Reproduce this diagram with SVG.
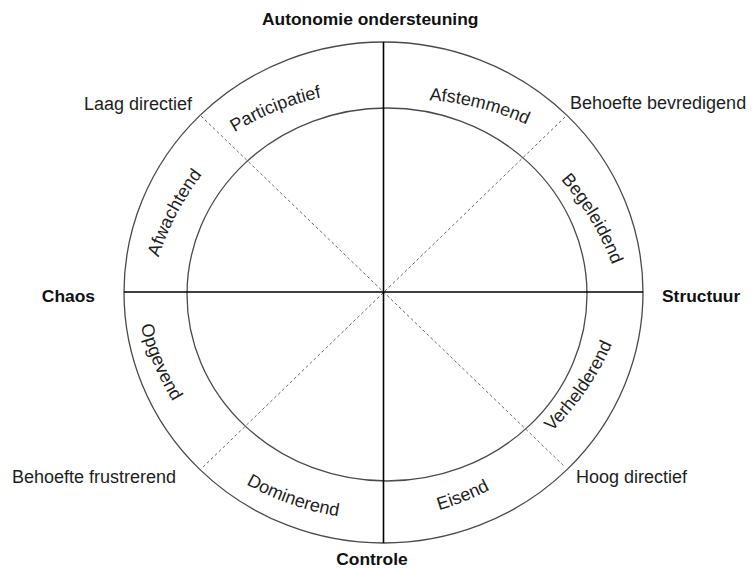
<svg xmlns="http://www.w3.org/2000/svg" width="752" height="570" viewBox="0 0 752 570">
<style>
.ring{fill:none;stroke:#4a4a4a;stroke-width:1.3}
.axis{stroke:#000;stroke-width:1.6}
.dash{stroke:#6a6a6a;stroke-width:1;stroke-dasharray:3 2.5}
.lbl{font-family:"Liberation Sans",Arial,sans-serif;font-size:18px;fill:#1e1e1e}
.axl{font-family:"Liberation Sans",Arial,sans-serif;font-size:17.4px;font-weight:bold;fill:#111}
</style>
<defs>
<path id="pParticipatief" d="M207.5,151 A280,280 0 0 1 353.9,92.4"/>
<path id="pAfstemmend" d="M399.8,99.9 A280,280 0 0 1 552.8,138.1"/>
<path id="pBegeleidend" d="M539.8,158.1 A280,280 0 0 1 621.4,293.3"/>
<path id="pAfwachtend" d="M150.1,289.2 A280,280 0 0 1 223.7,149.6"/>
<path id="pOpgevend" d="M133.4,287.7 A280,280 0 0 0 195.2,432.9"/>
<path id="pDominerend" d="M219.9,467.5 A280,280 0 0 0 368.9,519.5"/>
<path id="pEisend" d="M387.6,519.9 A280,280 0 0 0 534,461.3"/>
<path id="pVerhelderend" d="M532.1,449.2 A280,280 0 0 0 621.5,319.2"/>
</defs>
<g id="rings">
<ellipse class="ring" cx="383.5" cy="292.5" rx="259.5" ry="250.5"/>
<ellipse class="ring" cx="387" cy="294.5" rx="200" ry="186.5"/>
</g>
<g id="connectors">
<line class="dash" x1="201" y1="116" x2="565" y2="467"/>
<line class="dash" x1="565" y1="117" x2="201" y2="469"/>
<line class="axis" x1="383.5" y1="42" x2="383.5" y2="543"/>
<line class="axis" x1="124" y1="292" x2="643" y2="292"/>
</g>
<g id="axis-labels">
<text id="autonomie" class="axl" x="262" y="25">Autonomie ondersteuning</text>
<text id="controle" class="axl" x="372" y="565" text-anchor="middle">Controle</text>
<text id="chaos" class="axl" x="95" y="302" text-anchor="end">Chaos</text>
<text id="structuur" class="axl" x="662" y="302">Structuur</text>
</g>
<g id="corner-labels">
<text id="laag" class="lbl" x="192" y="110" text-anchor="end">Laag directief</text>
<text id="bevredigend" class="lbl" x="570" y="109">Behoefte bevredigend</text>
<text id="frustrerend" class="lbl" x="12" y="483">Behoefte frustrerend</text>
<text id="hoog" class="lbl" x="576" y="483">Hoog directief</text>
</g>
<g id="sector-labels">
<g id="participatief"><text class="lbl"><textPath href="#pParticipatief" startOffset="50%" text-anchor="middle">Participatief</textPath></text></g>
<g id="afstemmend"><text class="lbl"><textPath href="#pAfstemmend" startOffset="50%" text-anchor="middle">Afstemmend</textPath></text></g>
<g id="begeleidend"><text class="lbl"><textPath href="#pBegeleidend" startOffset="50%" text-anchor="middle">Begeleidend</textPath></text></g>
<g id="afwachtend"><text class="lbl"><textPath href="#pAfwachtend" startOffset="50%" text-anchor="middle">Afwachtend</textPath></text></g>
<g id="opgevend"><text class="lbl"><textPath href="#pOpgevend" startOffset="50%" text-anchor="middle">Opgevend</textPath></text></g>
<g id="dominerend"><text class="lbl"><textPath href="#pDominerend" startOffset="50%" text-anchor="middle">Dominerend</textPath></text></g>
<g id="eisend"><text class="lbl"><textPath href="#pEisend" startOffset="50%" text-anchor="middle">Eisend</textPath></text></g>
<g id="verhelderend"><text class="lbl"><textPath href="#pVerhelderend" startOffset="50%" text-anchor="middle">Verhelderend</textPath></text></g>
</g>
</svg>
